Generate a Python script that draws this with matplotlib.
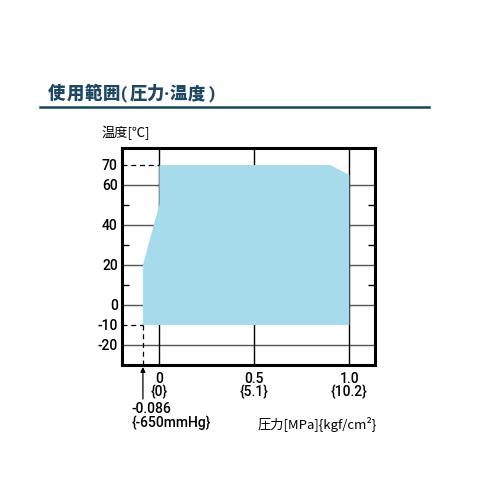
import matplotlib
matplotlib.use("Agg")
import matplotlib.pyplot as plt
from matplotlib.transforms import blended_transform_factory

# ---- data ----
boundary_pressure = [-0.086, -0.086, 0.0, 0.0, 0.9, 1.0, 1.0]
boundary_temp = [-10, 20, 50, 70, 70, 65, -10]
y_tick_values = [-20, -10, 0, 20, 40, 60, 70]
y_tick_labels = ["-20", "-10", "0", "20", "40", "60", "70"]
y_grid_values = [-20, 0, 20, 40, 60]
y_minor_values = [-10, 10, 30, 50, 70]
x_tick_values = [0.0, 0.5, 1.0]
x_tick_labels = ["0\n{0}", "0.5\n{5.1}", "1.0\n{10.2}"]
vacuum_p = -0.086
vacuum_label = "-0.086\n{-650mmHg}"
min_temp = -10
max_temp = 70

title = "使用範囲(圧力·温度)"
ylabel = "温度[℃]"
xlabel = "圧力[MPa]{kgf/cm²}"

CJK = ["Noto Sans CJK JP", "DejaVu Sans"]
NUM = ["Roboto", "DejaVu Sans"]
fill_color = "#a6dbec"

fig = plt.figure(figsize=(5, 5), dpi=100)
W = H = 500.0
def fx(px): return px / W
def fy(py): return 1 - py / H

ax = fig.add_axes([fx(122), fy(365), fx(375) - fx(122), fy(148) - fy(365)])
ax.set_xlim(-0.196, 1.135)
ax.set_ylim(-30, 78.5)

# grid lines (behind fill)
for v in y_grid_values:
    ax.axhline(v, color="#555555", lw=1.0, zorder=1)
for v in x_tick_values:
    ax.axvline(v, color="black", lw=1.0, zorder=1)

# fill region
ax.fill(boundary_pressure, boundary_temp, color=fill_color, lw=0, zorder=2)

# dashed guide lines
ax.plot([-0.196, 0.0], [max_temp, max_temp], color="black", lw=0.9,
        ls=(0, (4, 3)), zorder=3)
ax.plot([-0.196, vacuum_p], [min_temp, min_temp], color="black", lw=0.9,
        ls=(0, (4, 3)), zorder=3)
ax.plot([vacuum_p, vacuum_p], [-30, min_temp], color="black", lw=0.9,
        ls=(0, (4, 3)), zorder=3)

# ticks
ax.set_yticks(y_tick_values)
ax.set_yticklabels(y_tick_labels, family=NUM, fontsize=10, weight="medium")
ax.set_yticks(y_minor_values, minor=True)
ax.tick_params(axis="y", which="major", length=0, pad=3)
ax.tick_params(axis="y", which="minor", direction="in", length=5, width=1,
               left=True, right=True)
ax.set_xticks(x_tick_values)
ax.set_xticklabels(x_tick_labels, family=NUM, fontsize=10, weight="medium",
                   linespacing=0.95)
ax.tick_params(axis="x", which="major", length=0, pad=5)

for s in ax.spines.values():
    s.set_linewidth(2.2)
    s.set_color("black")
    s.set_zorder(5)

# arrow for vacuum
trans = blended_transform_factory(ax.transData, fig.transFigure)
ax.annotate("", xy=(vacuum_p, fy(367)), xycoords=trans,
            xytext=(vacuum_p, fy(399)), textcoords=trans,
            arrowprops=dict(arrowstyle="-|>", color="black", lw=0.9,
                            mutation_scale=7, shrinkA=0, shrinkB=0),
            annotation_clip=False)
fig.text(fx(132), fy(416), vacuum_label, family=NUM, fontsize=10,
         weight="medium", ha="left", va="center", linespacing=0.95)

# axis labels
fig.text(fx(377), fy(424), xlabel, family=CJK, fontsize=9.5, ha="right",
         va="center")
fig.text(fx(101), fy(133), ylabel, family=CJK, fontsize=9.5, ha="left",
         va="center")

# title (letter-spaced) and underline
title_centers = [56.5, 75.5, 93.5, 111.5, 124.5, 138, 155.5, 167, 178.5,
                 196.5, 211.5]
for ch, cx in zip(title, title_centers):
    fam = NUM if ord(ch) < 0x3000 else CJK
    fig.text(fx(cx), fy(94), ch, family=fam, fontsize=12.5, weight="heavy",
             color="#1d4763", ha="center", va="center")
fig.add_artist(plt.Line2D([fx(40), fx(429)], [fy(107), fy(107)],
                          color="#17485a", lw=1.8, transform=fig.transFigure))

fig.savefig("out.png", dpi=100)
